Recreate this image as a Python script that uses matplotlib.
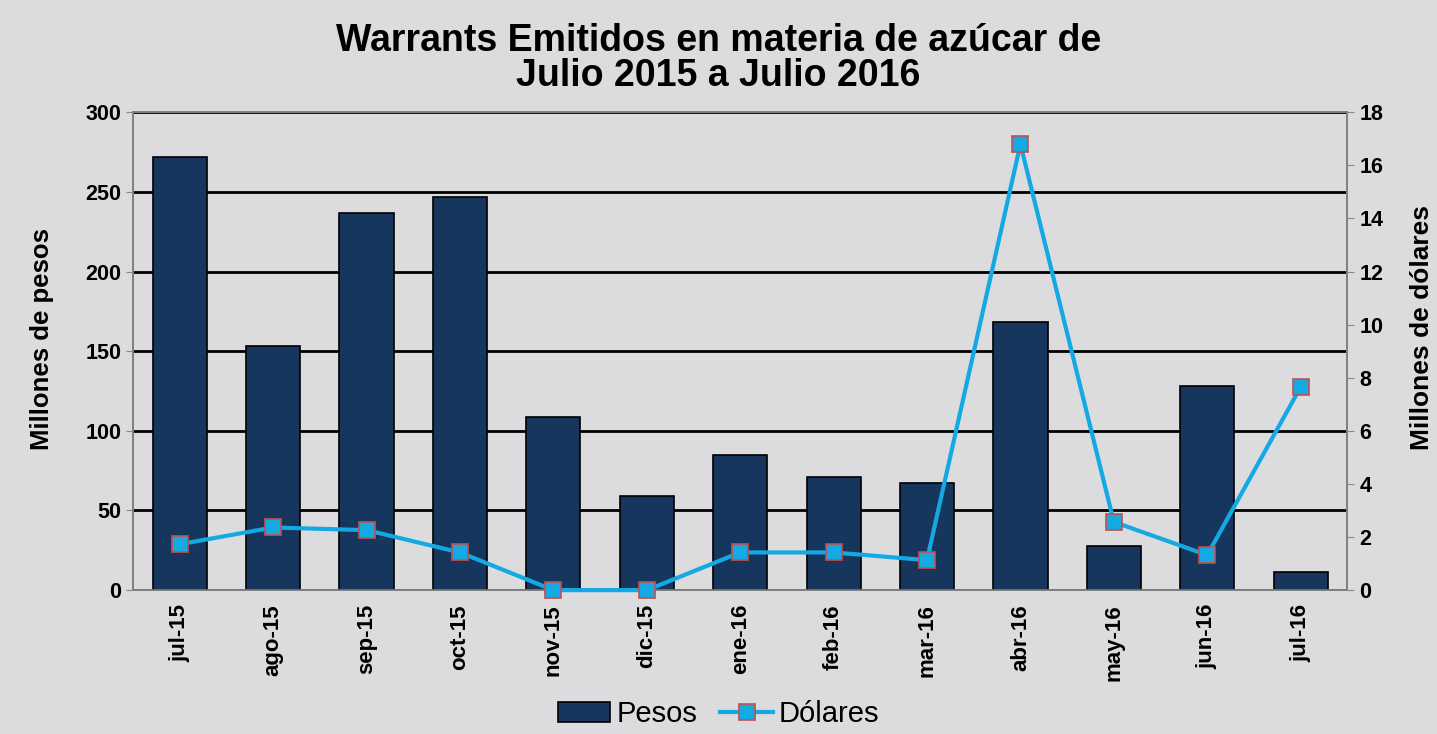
import matplotlib.pyplot as plt
import numpy as np

plt.rcParams['font.family'] = ['Liberation Sans', 'DejaVu Sans']

# Data
months = ["jul-15", "ago-15", "sep-15", "oct-15", "nov-15", "dic-15", "ene-16",
          "feb-16", "mar-16", "abr-16", "may-16", "jun-16", "jul-16"]
pesos = [272, 153, 237, 247, 109, 59, 85, 71, 67, 168.5, 28, 128, 11.5]
dolares = [1.73, 2.36, 2.26, 1.42, 0, 0, 1.42, 1.42, 1.13, 16.8, 2.57, 1.32, 7.65]

bg = "#dcdcde"
fig = plt.figure(figsize=(14.37, 7.34), dpi=100, facecolor=bg)
ax = fig.add_axes([0.0926, 0.196, 0.845, 0.651])
ax.set_facecolor(bg)

x = np.arange(len(months))
bars = ax.bar(x, pesos, width=0.58, color="#17365d", edgecolor="black",
              linewidth=1.2, label="Pesos", zorder=3)
ax.set_ylim(0, 300)
ax.set_xlim(-0.5, len(months) - 0.5)
ax.set_yticks(range(0, 301, 50))
ax.yaxis.grid(True, color="black", linewidth=2, zorder=1)
ax.set_axisbelow(True)
ax.set_xticks(x)
ax.set_xticklabels(months, rotation=90, fontsize=16, fontweight="bold")
ax.tick_params(axis="y", labelsize=15.5, colors="#888888", labelcolor="black", length=5)
ax.tick_params(axis="x", length=0, pad=10)
for lbl in ax.get_yticklabels():
    lbl.set_fontweight("bold")
for sp in ax.spines.values():
    sp.set_color("#808080")
    sp.set_linewidth(1.2)
ax.set_ylabel("Millones de pesos", fontsize=18.5, fontweight="bold")
ax.yaxis.set_label_coords(-0.065, 0.525)

ax2 = ax.twinx()
line, = ax2.plot(x, dolares, color="#14a9e3", linewidth=3, marker="s",
                 markersize=11, markerfacecolor="#14a9e3",
                 markeredgecolor="#c0504d", markeredgewidth=1.2,
                 label="Dólares", zorder=4, clip_on=False)
ax2.set_ylim(0, 18)
ax2.set_yticks(range(0, 19, 2))
ax2.tick_params(axis="y", labelsize=15.5, colors="#888888", labelcolor="black", length=5)
for lbl in ax2.get_yticklabels():
    lbl.set_fontweight("bold")
for sp in ax2.spines.values():
    sp.set_color("#808080")
    sp.set_linewidth(1.2)
ax2.set_ylabel("Millones de dólares", fontsize=19, fontweight="bold")
ax2.yaxis.set_label_coords(1.052, 0.55)

fig.suptitle("Warrants Emitidos en materia de azúcar de\nJulio 2015 a Julio 2016",
             fontsize=27, fontweight="bold", y=0.968, x=0.5, linespacing=0.95)

fig.legend([bars, line], ["Pesos", "Dólares"], loc="lower center",
           bbox_to_anchor=(0.5, -0.028), ncol=2, frameon=False, fontsize=21,
           handlelength=1.8, columnspacing=0.8, handletextpad=0.2)

fig.savefig("out.png", dpi=100, facecolor=bg)
